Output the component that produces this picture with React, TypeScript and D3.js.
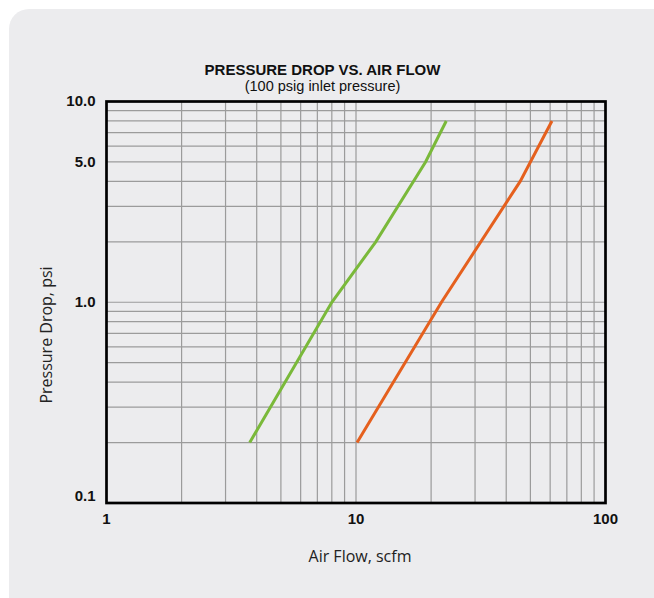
import React from "react";
import * as d3 from "d3";

const xTickLabels = ["1", "10", "100"];
const xTickValues = [1, 10, 100];
const yTickLabels = ["0.1", "1.0", "5.0", "10.0"];
const yTickValues = [0.1, 1, 5, 10];

const greenFlow = [3.75, 8, 12, 19, 23];
const greenDrop = [0.2, 1.0, 2.0, 5.0, 8.0];
const orangeFlow = [10.1, 22, 45.5, 61];
const orangeDrop = [0.2, 1.0, 4.0, 8.0];

const W = 654;
const H = 598;
const m = { left: 106.5, right: 605.5, top: 101.5, bottom: 503 };

export default function App() {
  const x = d3.scaleLog().domain([1, 100]).range([m.left, m.right]);
  const y = d3.scaleLog().domain([0.1, 10]).range([m.bottom, m.top]);

  const xGrid: number[] = [];
  for (const dec of [1, 10]) for (let k = 2; k <= 9; k++) xGrid.push(dec * k);
  const yGrid: number[] = [];
  for (const dec of [0.1, 1]) for (let k = 2; k <= 9; k++) yGrid.push(+(dec * k).toFixed(2));

  const line = d3
    .line<[number, number]>()
    .x((d) => x(d[0]))
    .y((d) => y(d[1]));

  const green = greenFlow.map((f, i) => [f, greenDrop[i]] as [number, number]);
  const orange = orangeFlow.map((f, i) => [f, orangeDrop[i]] as [number, number]);

  return (
    <svg
      width={W}
      height={H}
      style={{ position: "absolute", left: 0, top: 0, display: "block" }}
    >
      <rect x={0} y={0} width={W} height={H} fill="#ffffff" />
      <rect x={9} y={9} width={680} height={620} rx={20} ry={20} fill="#ececee" />
      <g stroke="#9b9b9b" strokeWidth={1.2}>
        {xGrid.map((v) => (
          <line key={"x" + v} x1={x(v)} x2={x(v)} y1={m.top} y2={m.bottom} />
        ))}
        {yGrid.map((v) => (
          <line key={"y" + v} x1={m.left} x2={m.right} y1={y(v)} y2={y(v)} />
        ))}
        <line x1={x(10)} x2={x(10)} y1={m.top} y2={m.bottom} />
        <line x1={m.left} x2={m.right} y1={y(1)} y2={y(1)} />
      </g>
      <path d={line(green) || ""} fill="none" stroke="#7ab93a" strokeWidth={3} />
      <path d={line(orange) || ""} fill="none" stroke="#e5601e" strokeWidth={3} />
      <rect
        x={m.left}
        y={m.top}
        width={m.right - m.left}
        height={m.bottom - m.top}
        fill="none"
        stroke="#000"
        strokeWidth={2.7}
      />
      <g fontFamily="'Liberation Sans', Arial, sans-serif" fontWeight="bold" fontSize={15} fill="#111">
        {yTickValues.map((v, i) => (
          <text
            key={"yl" + v}
            x={95.5}
            y={y(v) + (v === 0.1 ? -6 : 0.8)}
            textAnchor="end"
            dominantBaseline="middle"
          >
            {yTickLabels[i]}
          </text>
        ))}
        {xTickValues.map((v, i) => (
          <text key={"xl" + v} x={x(v)} y={523.5} textAnchor="middle">
            {xTickLabels[i]}
          </text>
        ))}
      </g>
      <text
        x={322.5}
        y={75}
        textAnchor="middle"
        fontFamily="'Liberation Sans', Arial, sans-serif"
        fontWeight="bold"
        fontSize={15}
        fill="#111"
      >
        PRESSURE DROP VS. AIR FLOW
      </text>
      <text
        x={322.5}
        y={90.5}
        textAnchor="middle"
        fontFamily="'Liberation Sans', Arial, sans-serif"
        fontSize={14.5}
        fill="#111"
      >
        (100 psig inlet pressure)
      </text>
      <text
        x={360}
        y={562}
        textAnchor="middle"
        fontFamily="'Open Sans', sans-serif"
        fontSize={16}
        fill="#222"
      >
        Air Flow, scfm
      </text>
      <text
        transform="translate(52,335) rotate(-90)"
        textAnchor="middle"
        fontFamily="'Open Sans', sans-serif"
        fontSize={16}
        fill="#222"
      >
        Pressure Drop, psi
      </text>
    </svg>
  );
}
